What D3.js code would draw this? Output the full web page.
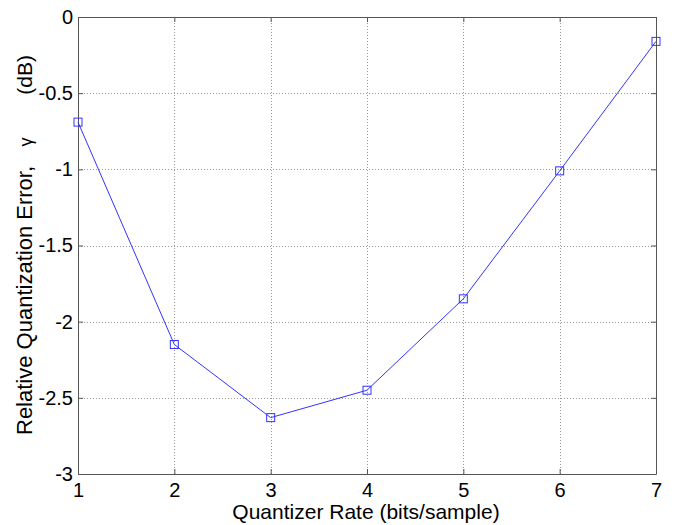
<html>
<head>
<meta charset="utf-8">
<script src="https://d3js.org/d3.v7.min.js"></script>
<style>
  body { margin: 0; background: white; }
  svg { display: block; font-family: "Liberation Sans", Arial, sans-serif; }
</style>
</head>
<body>
<svg width="675" height="525"></svg>
<script>
// data
var rates = [1, 2, 3, 4, 5, 6, 7];
var errors = [-0.69, -2.15, -2.63, -2.45, -1.85, -1.01, -0.16];
var xTicks = [1, 2, 3, 4, 5, 6, 7];
var yTicks = [0, -0.5, -1, -1.5, -2, -2.5, -3];

var mLeft = 78, mTop = 17, mRight = 656, mBottom = 474;
var width = mRight - mLeft, height = mBottom - mTop;

var svg = d3.select("svg");

var x = d3.scaleLinear().domain([1, 7]).range([0, width]);
var y = d3.scaleLinear().domain([-3, 0]).range([height, 0]);

var g = svg.append("g").attr("transform", "translate(" + mLeft + "," + mTop + ")");

// grid
g.selectAll(".vgrid").data(xTicks.slice(1, -1)).enter().append("line")
  .attr("x1", d => Math.round(x(d)) + 0.5).attr("x2", d => Math.round(x(d)) + 0.5)
  .attr("y1", 0).attr("y2", height)
  .attr("stroke", "#999").attr("stroke-width", 1).attr("stroke-dasharray", "1,2");
g.selectAll(".hgrid").data(yTicks.slice(1, -1)).enter().append("line")
  .attr("y1", d => Math.round(y(d)) + 0.5).attr("y2", d => Math.round(y(d)) + 0.5)
  .attr("x1", 0).attr("x2", width)
  .attr("stroke", "#999").attr("stroke-width", 1).attr("stroke-dasharray", "1,2");

// axes (ticks point inwards, box all round)
var axisColor = "#555";
var fmt = d => String(d);
var xb = g.append("g").attr("transform", "translate(0," + height + ")")
  .call(d3.axisBottom(x).tickValues(xTicks).tickFormat(fmt).tickSizeInner(-5).tickSizeOuter(0).tickPadding(9));
var xt = g.append("g")
  .call(d3.axisTop(x).tickValues(xTicks).tickFormat("").tickSizeInner(-5).tickSizeOuter(0));
var yl = g.append("g")
  .call(d3.axisLeft(y).tickValues(yTicks).tickFormat(fmt).tickSizeInner(-5).tickSizeOuter(0).tickPadding(5));
var yr = g.append("g").attr("transform", "translate(" + width + ",0)")
  .call(d3.axisRight(y).tickValues(yTicks).tickFormat("").tickSizeInner(-5).tickSizeOuter(0));

[xb, xt, yl, yr].forEach(function (a) {
  a.selectAll("path").attr("stroke", axisColor);
  a.selectAll("line").attr("stroke", axisColor);
  a.selectAll("text").attr("fill", "#000").style("font-size", "20px")
    .style("font-family", "Liberation Sans, Arial, sans-serif");
});

// line
g.append("path").datum(rates)
  .attr("fill", "none").attr("stroke", "#3333ff").attr("stroke-width", 1)
  .attr("d", d3.line().x((d, i) => x(d)).y((d, i) => y(errors[i])));

// markers
g.selectAll(".mk").data(rates).enter().append("rect")
  .attr("x", d => x(d) - 4).attr("y", (d, i) => y(errors[i]) - 4)
  .attr("width", 8).attr("height", 8)
  .attr("fill", "none").attr("stroke", "#3333ff").attr("stroke-width", 1);

// labels
svg.append("text")
  .attr("x", 366).attr("y", 519)
  .attr("text-anchor", "middle").style("font-size", "21px")
  .text("Quantizer Rate (bits/sample)");

svg.append("text")
  .attr("transform", "translate(32,435) rotate(-90)")
  .attr("text-anchor", "start").style("font-size", "22px")
  .text("Relative Quantization Error,");
svg.append("text")
  .attr("transform", "translate(32,142) rotate(-90)")
  .attr("text-anchor", "middle").style("font-size", "18px")
  .text("\u03b3");
svg.append("text")
  .attr("transform", "translate(32,55) rotate(-90)")
  .attr("text-anchor", "end").style("font-size", "21px")
  .text("(dB)");
</script>
</body>
</html>
